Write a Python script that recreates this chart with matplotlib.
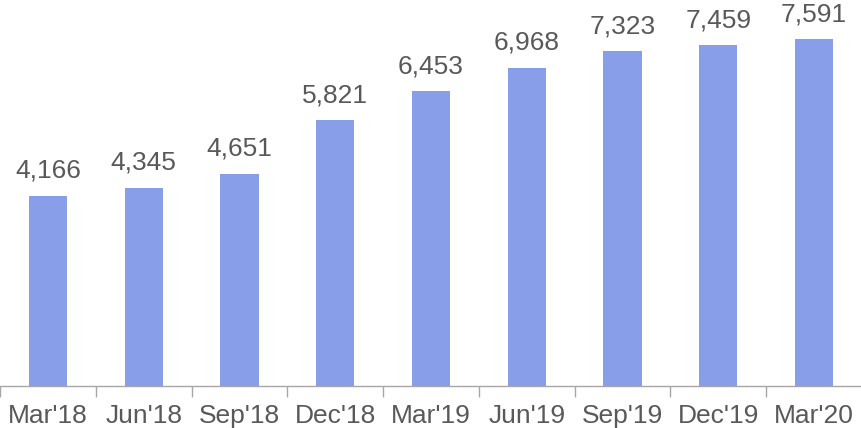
import numpy as np
import matplotlib
matplotlib.use("Agg")
import matplotlib.pyplot as plt

# Data
quarters = ["Mar'18", "Jun'18", "Sep'18", "Dec'18", "Mar'19",
            "Jun'19", "Sep'19", "Dec'19", "Mar'20"]
values = [4166, 4345, 4651, 5821, 6453, 6968, 7323, 7459, 7591]

BAR_COLOR = "#889EE8"
TEXT_COLOR = "#595959"
AXIS_COLOR = "#A6A6A6"

plt.rcParams["font.family"] = ["Liberation Sans", "DejaVu Sans"]

fig = plt.figure(figsize=(8.62, 4.28), dpi=100)
ax = fig.add_axes([0, 0.098, 1, 0.902])

x = np.arange(len(quarters))
ax.bar(x, values, width=0.4, color=BAR_COLOR)

# value labels above bars
for xi, v in zip(x, values):
    ax.annotate(f"{v:,}", (xi, v), xytext=(0, 13), textcoords="offset points",
                ha="center", va="baseline", fontsize=19, color=TEXT_COLOR)

ax.set_xlim(-0.5, len(quarters) - 0.5)
ax.set_ylim(0, 8450)

# category labels, tick marks between categories
ax.set_xticks(x)
ax.set_xticklabels(quarters, fontsize=19, color=TEXT_COLOR)
ax.tick_params(axis="x", which="major", length=0, pad=13)
ax.set_xticks(np.arange(len(quarters) + 1) - 0.5, minor=True)
ax.tick_params(axis="x", which="minor", length=8, color=AXIS_COLOR, width=1)

ax.set_yticks([])
for side in ["top", "right", "left"]:
    ax.spines[side].set_visible(False)
ax.spines["bottom"].set_color(AXIS_COLOR)
ax.spines["bottom"].set_linewidth(1)

fig.savefig("out.png", dpi=100)
